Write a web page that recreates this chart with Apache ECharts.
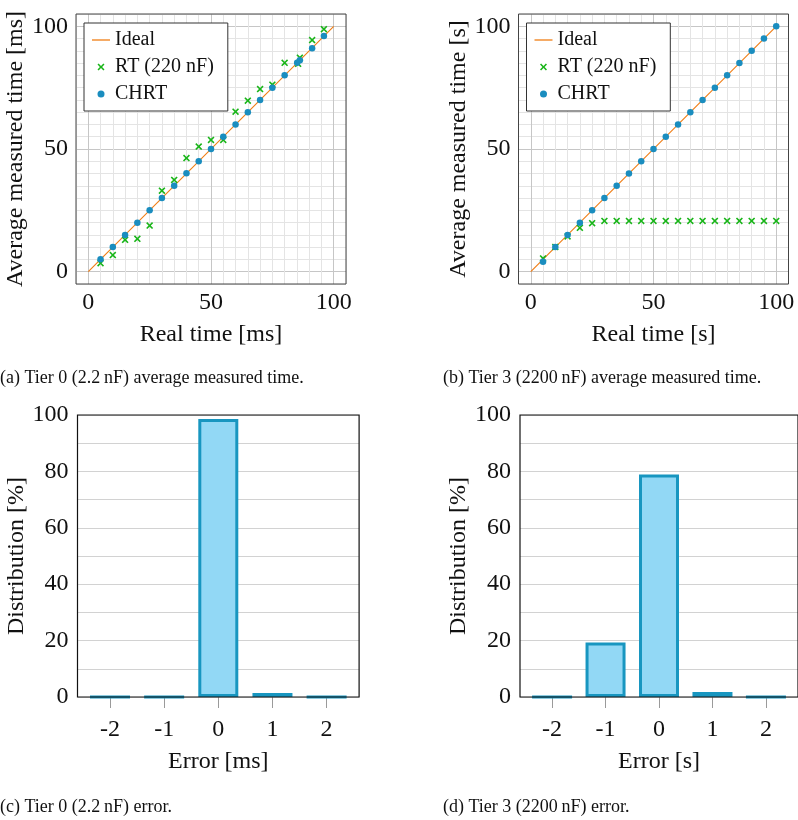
<!DOCTYPE html>
<html>
<head>
<meta charset="utf-8">
<script src="https://cdn.jsdelivr.net/npm/echarts@6/dist/echarts.min.js"></script>
<style>
html,body{margin:0;padding:0;background:#fff;}
#c{width:798px;height:820px;}
</style>
</head>
<body>
<div id="c"></div>
<script>
// ---------- data ----------
const idealX = [0, 100];
const idealY = [0, 100];

// Panel (a): Tier 0 (2.2 nF)
const aChrtX = [5,10,15,20,25,30,35,40,45,50,55,60,65,70,75,80,85.1,86.2,91.2,96];
const aChrtY = [5.1,10.1,15,20,25,30,35,40.1,45,50,55,60,65,70,75,80,85.1,86.2,91,96];
const aRtX   = [5,10,15,20,25,30,35,40,45,50,55,60,65,70,75,80,85.5,86.2,91.2,96];
const aRtY   = [3.5,6.8,13,13.4,18.8,33,37.4,46.3,51,53.7,53.7,65.2,69.7,74.4,76.2,85.1,84.7,87.2,94.4,98.8];

// Panel (b): Tier 3 (2200 nF)
const bChrtX = [5,10,15,20,25,30,35,40,45,50,55,60,65,70,75,80,85,90,95,100];
const bChrtY = [4.1,10.1,15,20,25,30,35,40,45,50,55,60,65,70,75,80,85,90,95,100];
const bRtX   = [5,10,15,20,25,30,35,40,45,50,55,60,65,70,75,80,85,90,95,100];
const bRtY   = [5.4,10.1,14.4,17.9,19.8,20.7,20.7,20.7,20.7,20.7,20.7,20.7,20.7,20.7,20.7,20.7,20.7,20.7,20.7,20.7];

// Panels (c), (d): error distribution
const errCats = [-2,-1,0,1,2];
const distC = [0, 0, 98.6, 1.4, 0];
const distD = [0, 19.3, 78.9, 1.8, 0];

const scatterTicks = [0, 50, 100];
const distTicks = [0, 20, 40, 60, 80, 100];

const captions = [
  '(a) Tier 0 (2.2\u2009nF) average measured time.',
  '(b) Tier 3 (2200\u2009nF) average measured time.',
  '(c) Tier 0 (2.2\u2009nF) error.',
  '(d) Tier 3 (2200\u2009nF) error.'
];

// ---------- styling ----------
const FONT = "'Liberation Serif','DejaVu Serif',serif";
const ORANGE = '#f07d14';
const GREEN = '#19b519';
const BLUE = '#1a8dbf';
const BAR_FILL = '#92d8f5';
const BAR_EDGE = '#1896c0';
const X_PATH = 'path://M0,1.6 L1.6,0 L5,3.4 L8.4,0 L10,1.6 L6.6,5 L10,8.4 L8.4,10 L5,6.6 L1.6,10 L0,8.4 L3.4,5 Z';
const LINE_PATH = 'path://M0,0h18v1.3h-18z';

const zip = (xs, ys) => xs.map((x, i) => [x, ys[i]]);

const minorC = '#e4e4e4', majorC = '#c6c6c6';
const splitColors = [minorC, majorC, minorC, minorC, minorC, minorC, minorC, minorC, minorC, minorC];

function scatterX(gi, name) {
  return {
    type: 'value', gridIndex: gi, min: -5, max: 105, interval: 5,
    axisLine: { show: false }, axisTick: { show: false },
    splitLine: { show: true, lineStyle: { color: splitColors, width: 1 } },
    axisLabel: {
      fontFamily: FONT, fontSize: 24, color: '#111', margin: 7,
      formatter: v => scatterTicks.some(t => Math.abs(t - v) < 1e-6) ? String(Math.round(v)) : ''
    },
    name: name, nameLocation: 'middle', nameGap: 39,
    nameTextStyle: { fontFamily: FONT, fontSize: 24, color: '#111' }
  };
}
function scatterY(gi, name) {
  return {
    type: 'value', gridIndex: gi, min: -5, max: 105, interval: 5,
    axisLine: { show: false }, axisTick: { show: false },
    splitLine: { show: true, lineStyle: { color: splitColors, width: 1 } },
    axisLabel: {
      fontFamily: FONT, fontSize: 24, color: '#111', margin: 8,
      formatter: v => scatterTicks.some(t => Math.abs(t - v) < 1e-6) ? String(Math.round(v)) : ''
    },
    name: name, nameLocation: 'middle', nameGap: 42, nameRotate: 90,
    nameTextStyle: { fontFamily: FONT, fontSize: 24, color: '#111' }
  };
}
function barX(gi, name) {
  return {
    type: 'value', gridIndex: gi, min: -2.6, max: 2.6,
    axisLine: { show: false },
    axisTick: { show: true, customValues: errCats, length: 11, lineStyle: { color: '#9a9a9a', width: 1 } },
    splitLine: { show: false },
    axisLabel: { fontFamily: FONT, fontSize: 24, color: '#111', margin: 21, customValues: errCats,
                 formatter: v => String(v) },
    name: name, nameLocation: 'middle', nameGap: 53,
    nameTextStyle: { fontFamily: FONT, fontSize: 24, color: '#111' }
  };
}
function barY(gi, name) {
  return {
    type: 'value', gridIndex: gi, min: 0, max: 100, interval: 10,
    axisLine: { show: false }, axisTick: { show: false },
    splitLine: { show: true, lineStyle: { color: '#d2d2d2', width: 1 } },
    axisLabel: { fontFamily: FONT, fontSize: 24, color: '#111', margin: 9,
                 formatter: v => distTicks.some(t => Math.abs(t - v) < 1e-6) ? String(Math.round(v)) : '' },
    name: name, nameLocation: 'middle', nameGap: 41, nameRotate: 90,
    nameTextStyle: { fontFamily: FONT, fontSize: 24, color: '#111' }
  };
}

function scatterSeries(gi, chrt, rt) {
  return [
    { name: 'Ideal', type: 'line', xAxisIndex: gi, yAxisIndex: gi, data: zip(idealX, idealY),
      showSymbol: false, symbol: 'none', lineStyle: { color: ORANGE, width: 1.1 }, itemStyle: { color: ORANGE },
      z: 2, silent: true, animation: false },
    { name: 'RT (220 nF)', type: 'scatter', xAxisIndex: gi, yAxisIndex: gi, data: rt,
      symbol: X_PATH, symbolSize: 7, itemStyle: { color: GREEN, opacity: 1 }, z: 3, animation: false },
    { name: 'CHRT', type: 'scatter', xAxisIndex: gi, yAxisIndex: gi, data: chrt,
      symbol: 'circle', symbolSize: 6.5, itemStyle: { color: BLUE, opacity: 1 }, z: 4, animation: false }
  ];
}
function barSeries(gi, vals) {
  return {
    name: 'dist' + gi, type: 'bar', xAxisIndex: gi, yAxisIndex: gi,
    data: zip(errCats, vals), barWidth: 40,
    itemStyle: { color: BAR_FILL, borderColor: BAR_EDGE, borderWidth: 3 },
    z: 2, animation: false
  };
}
function legend(left) {
  return {
    orient: 'vertical', left: left, top: 23, padding: [7, 14, 7, 8], itemGap: 7,
    itemWidth: 18, itemHeight: 7, itemTextGap: 5,
    backgroundColor: '#fff', borderColor: '#333', borderWidth: 1,
    textStyle: { fontFamily: FONT, fontSize: 20, color: '#111', lineHeight: 20 },
    selectedMode: false,
    data: [
      { name: 'Ideal', icon: LINE_PATH, itemStyle: { color: ORANGE } },
      { name: 'RT (220 nF)', icon: X_PATH, itemStyle: { color: GREEN } },
      { name: 'CHRT', icon: 'circle', itemStyle: { color: BLUE } }
    ],
    z: 6
  };
}
function caption(text, left, top) {
  return { text: text, left: left, top: top, padding: 0,
           textStyle: { fontFamily: FONT, fontSize: 18, fontWeight: 'normal', color: '#111' } };
}

const gridBase = { show: true, backgroundColor: 'transparent', z: 10 };
const option = {
  backgroundColor: '#fff',
  animation: false,
  title: [
    caption(captions[0], 0, 369),
    caption(captions[1], 443, 369),
    caption(captions[2], 0, 798),
    caption(captions[3], 443, 798)
  ],
  legend: [legend(84), legend(526.5)],
  grid: [
    Object.assign({ left: 76, top: 14, width: 270, height: 270, borderColor: '#444', borderWidth: 1 }, gridBase),
    Object.assign({ left: 518.5, top: 14, width: 270, height: 270, borderColor: '#444', borderWidth: 1 }, gridBase),
    Object.assign({ left: 77.5, top: 415, width: 281.6, height: 282, borderColor: '#111', borderWidth: 1.2 }, gridBase),
    Object.assign({ left: 520, top: 415, width: 281.6, height: 282, borderColor: '#111', borderWidth: 1.2 }, gridBase)
  ],
  xAxis: [
    scatterX(0, 'Real time [ms]'),
    scatterX(1, 'Real time [s]'),
    barX(2, 'Error [ms]'),
    barX(3, 'Error [s]')
  ],
  yAxis: [
    scatterY(0, 'Average measured time [ms]'),
    scatterY(1, 'Average measured time [s]'),
    barY(2, 'Distribution [%]'),
    barY(3, 'Distribution [%]')
  ],
  series: [].concat(
    scatterSeries(0, zip(aChrtX, aChrtY), zip(aRtX, aRtY)),
    scatterSeries(1, zip(bChrtX, bChrtY), zip(bRtX, bRtY)),
    [barSeries(2, distC), barSeries(3, distD)]
  )
};

const chart = echarts.init(document.getElementById('c'), null, { renderer: 'canvas' });
chart.setOption(option);
</script>
</body>
</html>
